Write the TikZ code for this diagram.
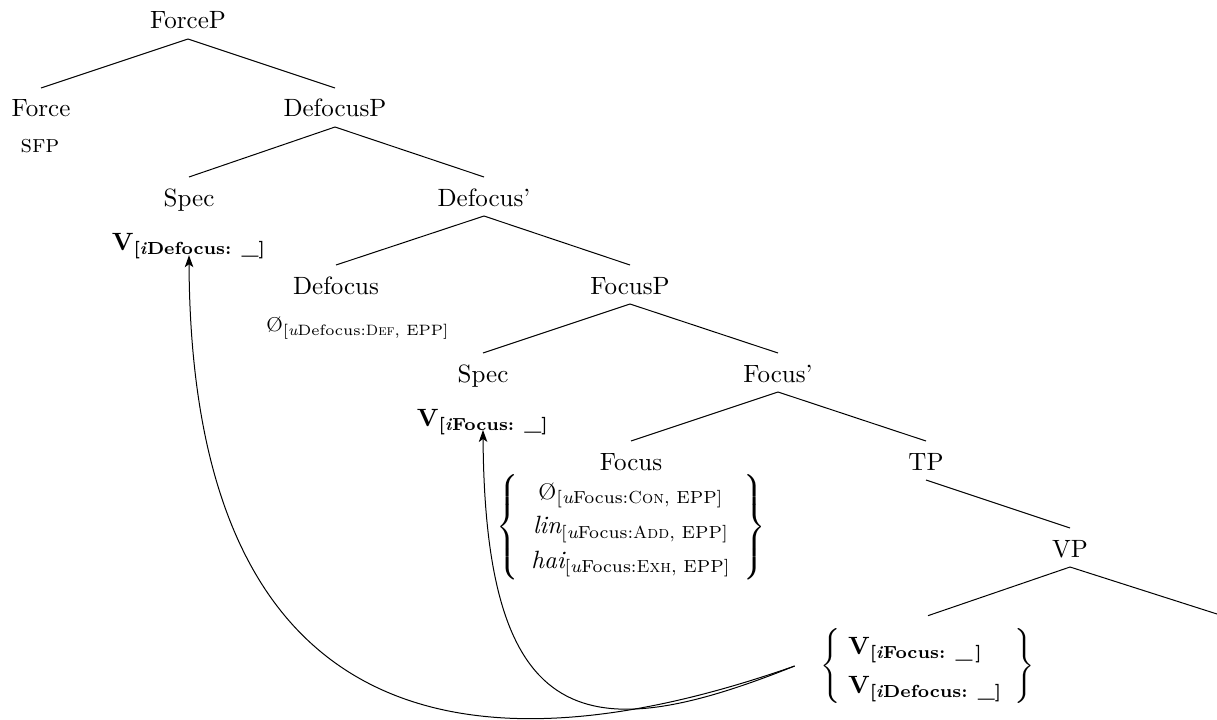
\documentclass[tikz,border=0pt]{standalone}
\usepackage{amsmath}
\usepackage{amssymb}
\usepackage{tikz}
\usetikzlibrary{arrows.meta}

\begin{document}
\begin{tikzpicture}[x=0.4pt,y=-0.4pt,>={Stealth[length=4.8pt,width=3.4pt,inset=1.2pt]}]
	\useasboundingbox (0,0) rectangle (1217,719);
	
	% labels of the tree
	\node[anchor=base] (fp) at (188,29) {ForceP};
	\node[anchor=base] (force) at (41,117) {Force};
	\node[anchor=base] (sfp) at (40,152) {\textsc{sfp}};
	\node[anchor=base] (dfp) at (335,117) {DefocusP};
	\node[anchor=base] (spa) at (189,206) {Spec};
	\node[anchor=base] (dv) at (189,250) {$\mathbf{V}_{\textbf{[\textit{i}Defocus: \_]}}$};
	\node[anchor=base] (dfbar) at (484,206) {Defocus'};
	\node[anchor=base] (df) at (336,294) {Defocus};
	\node[anchor=base] (dfnull) at (358,331) {\footnotesize $\text{\O}_{[\textit{u}\text{Defocus:}\textsc{Def}\text{, EPP}]}$};
	\node[anchor=base] (fcp) at (630,294) {FocusP};
	\node[anchor=base] (spb) at (483,382) {Spec};
	\node[anchor=base] (fv) at (483,426) {$\mathbf{V}_{\textbf{[\textit{i}Focus: \_]}}$};
	\node[anchor=base] (fcbar) at (778,382) {Focus'};
	\node[anchor=base] (fc) at (631,470) {Focus};
	\node (fcblk) at (631,527) {$\left\{\renewcommand{\arraystretch}{1.15}\begin{array}{@{\enskip}c@{\enskip}}
		\text{\small\O}_{[\textit{u}\text{Focus:}\textsc{Con}\text{, EPP}]}\\
		\textit{lin}_{[\textit{u}\text{Focus:}\textsc{Add}\text{, EPP}]}\\
		\textit{hai}_{[\textit{u}\text{Focus:}\textsc{Exh}\text{, EPP}]}
		\end{array}\right\}$};
	\node[anchor=base] (tp) at (926,470) {TP};
	\node[anchor=base] (vp) at (1070,557) {VP};
	\node (vblk) at (928,666) {$\left\{\renewcommand{\arraystretch}{1.3}\begin{array}{@{\;}l@{\enskip}}
		\mathbf{V}_{\textbf{[\textit{i}Focus: \_\,]}}\\
		\mathbf{V}_{\textbf{[\textit{i}Defocus: \_]}}
		\end{array}\right\}$};
	\coordinate (vcomp) at (1217,614);
	\coordinate (mv) at ([xshift=-7pt]vblk.west);
	
	% branches
	\draw ([yshift=-4pt]fp.base) -- ([yshift=11.6pt]force.base);
	\draw ([yshift=-4pt]fp.base) -- ([yshift=11.6pt]dfp.base);
	\draw ([yshift=-4pt]dfp.base) -- ([yshift=11.6pt]spa.base);
	\draw ([yshift=-4pt]dfp.base) -- ([yshift=11.6pt]dfbar.base);
	\draw ([yshift=-4pt]dfbar.base) -- ([yshift=11.6pt]df.base);
	\draw ([yshift=-4pt]dfbar.base) -- ([yshift=11.6pt]fcp.base);
	\draw ([yshift=-4pt]fcp.base) -- ([yshift=11.6pt]spb.base);
	\draw ([yshift=-4pt]fcp.base) -- ([yshift=11.6pt]fcbar.base);
	\draw ([yshift=-4pt]fcbar.base) -- ([yshift=11.6pt]fc.base);
	\draw ([yshift=-4pt]fcbar.base) -- ([yshift=11.6pt]tp.base);
	\draw ([yshift=-4pt]tp.base) -- ([yshift=11.6pt]vp.base);
	\draw ([yshift=-4pt]vp.base) -- ([yshift=1pt]vblk.north);
	\draw ([yshift=-4pt]vp.base) -- (vcomp);
	
	% movement
	\draw[->] (mv) .. controls +(-327,115) and +(2,478) .. ([yshift=5pt]dv.south);
	\draw[->] (mv) .. controls +(-207,83) and +(2,302) .. ([yshift=5.5pt]fv.south);
\end{tikzpicture}
\end{document}
